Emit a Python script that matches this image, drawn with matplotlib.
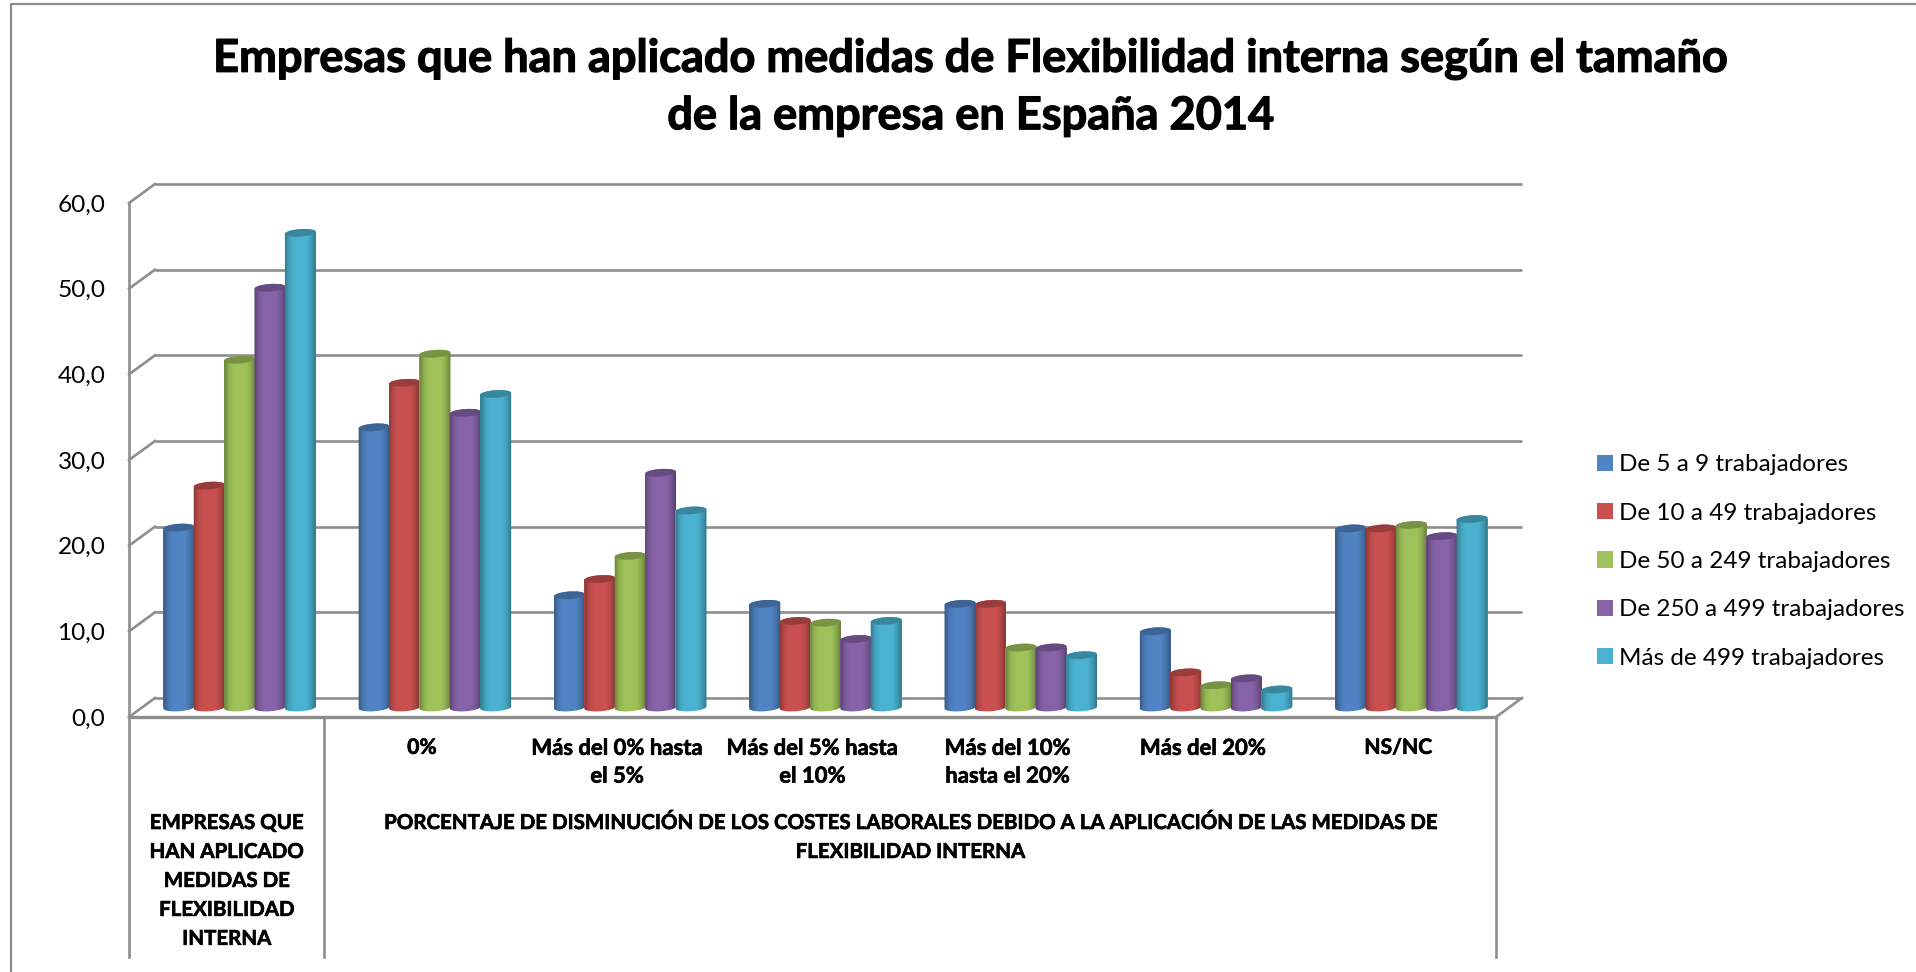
import numpy as np
import matplotlib
matplotlib.use("Agg")
import matplotlib.pyplot as plt
import matplotlib.patheffects as pe
from matplotlib.patches import Ellipse, PathPatch
from matplotlib.path import Path
from matplotlib.transforms import Affine2D, IdentityTransform
from matplotlib.colors import to_rgb

W, H = 1916, 972
FONT = ["Lato", "DejaVu Sans"]
plt.rcParams["font.family"] = FONT

title = "Empresas que han aplicado medidas de Flexibilidad interna según el tamaño\nde la empresa en España 2014"
series_names = ["De 5 a 9 trabajadores", "De 10 a 49 trabajadores", "De 50 a 249 trabajadores",
                "De 250 a 499 trabajadores", "Más de 499 trabajadores"]
categories = ["", "0%", "Más del 0% hasta\nel 5%", "Más del 5% hasta\nel 10%",
              "Más del 10%\nhasta el 20%", "Más del 20%", "NS/NC"]
colors = ["#5083C3", "#C9504F", "#9EC259", "#8663A8", "#4AB2D0"]
s0 = [21.0, 32.7, 13.1, 12.1, 12.1, 8.9, 20.9]
s1 = [25.9, 37.9, 15.0, 10.1, 12.1, 4.1, 20.9]
s2 = [40.6, 41.3, 17.7, 9.9, 7.0, 2.6, 21.3]
s3 = [49.0, 34.4, 27.4, 8.0, 7.0, 3.4, 20.0]
s4 = [55.4, 36.6, 23.0, 10.1, 6.1, 2.1, 22.0]
series = [s0, s1, s2, s3, s4]
yticks = [0, 10, 20, 30, 40, 50, 60]
group_left = "EMPRESAS QUE\nHAN APLICADO\nMEDIDAS DE\nFLEXIBILIDAD\nINTERNA"
group_right = "PORCENTAJE DE DISMINUCIÓN DE LOS COSTES LABORALES DEBIDO A LA APLICACIÓN DE LAS MEDIDAS DE\nFLEXIBILIDAD INTERNA"

fig = plt.figure(figsize=(W / 100, H / 100), dpi=100, facecolor="white")
# front plane of the 3D box, in pixels
x0, x1, ytop, ybot = 129, 1496, 203, 717
ax = fig.add_axes([x0 / W, 1 - ybot / H, (x1 - x0) / W, (ybot - ytop) / H])
ax.set_xlim(-0.5, 6.5)
ax.set_ylim(0, 60)
ax.autoscale(False)
ax.patch.set_visible(False)
for name, sp in ax.spines.items():
    sp.set_visible(False)
GRID = "#8E8E8E"
depth_x, depth_y = 26, 19
mid = ax.transData + Affine2D().translate(depth_x / 2, depth_y / 2)
back = ax.transData + Affine2D().translate(depth_x, depth_y)
dx = depth_x / ((x1 - x0) / 7)
dy = depth_y / ((ybot - ytop) / 60)

# walls
ax.hlines(yticks, -0.5, 6.5, transform=back, color=GRID, lw=1.9, zorder=1, clip_on=False)
for v in yticks:
    ax.plot([-0.5, -0.5 + dx], [v, v + dy], color=GRID, lw=1.9, zorder=1, clip_on=False)
ax.plot([6.5, 6.5 + dx], [0, dy], color=GRID, lw=1.9, zorder=1, clip_on=False)
ax.plot([-0.5, 6.5], [0, 0], color=GRID, lw=2.4, zorder=2, clip_on=False)
ylow = (ybot - 957) / ((ybot - ytop) / 60)
ax.plot([-0.5, -0.5], [60, ylow], color=GRID, lw=1.9, zorder=2, clip_on=False)
for xs in (0.5, 6.5):
    ax.plot([xs, xs], [0, ylow], color=GRID, lw=1.9, zorder=2, clip_on=False)

# cylinders
bw_data = 0.1555
bw_px = 31.0
eh = 7.5
tilt = np.deg2rad(4)
stops_t = [0, 0.06, 0.16, 0.3, 0.68, 0.84, 1]
stops_a = [0.34, 0.24, 0.08, 0.0, 0.0, 0.14, 0.40]
tt = np.linspace(0, 1, 64)
aa = np.interp(tt, stops_t, stops_a)
shade = np.zeros((1, 64, 4))
shade[0, :, 3] = aa
xpos = np.arange(7)


def arc(cx, cy, a0, a1, n=30):
    th = np.linspace(a0, a1, n)
    ex = bw_px / 2 * np.cos(th)
    ey = eh / 2 * np.sin(th)
    return np.c_[cx + ex * np.cos(tilt) - ey * np.sin(tilt), cy + ex * np.sin(tilt) + ey * np.cos(tilt)]


fig.canvas.draw()
containers = []
for s, (vals, col, nm) in enumerate(zip(series, colors, series_names)):
    xx = xpos + (s - 2) * bw_data
    bc = ax.bar(xx, vals, width=bw_data * 1.02, color=col, label=nm, transform=mid, zorder=10 + s, clip_on=False)
    containers.append(bc)
    cap = tuple(c * 0.76 for c in to_rgb(col))
    for xc, v in zip(xx, vals):
        bx, by = mid.transform((xc, 0))
        tx, ty = mid.transform((xc, v))
        low = arc(bx, by, np.pi, 2 * np.pi)
        up = arc(tx, ty, 0, np.pi)
        pts = np.vstack([low, up, low[:1]])
        codes = [Path.MOVETO] + [Path.LINETO] * (len(pts) - 2) + [Path.CLOSEPOLY]
        body = PathPatch(Path(pts, codes), transform=IdentityTransform(), fc=col, ec="none",
                         zorder=10 + s, clip_on=False)
        ax.add_patch(body)
        half = bw_data * 0.53
        im = ax.imshow(shade, extent=(xc - half, xc + half, -2, v + 2), aspect="auto",
                       transform=mid, zorder=10 + s, interpolation="bilinear")
        im.set_clip_path(body)
        ax.add_patch(Ellipse((tx, ty), bw_px, eh, angle=np.rad2deg(tilt), transform=IdentityTransform(),
                             fc=cap, ec="none", zorder=10 + s, clip_on=False))
ax.set_xlim(-0.5, 6.5)
ax.set_ylim(0, 60)

bold_fx = [pe.withStroke(linewidth=0.45, foreground="black")]
# axes text
ax.set_yticks(yticks)
ax.set_yticklabels([f"{v:.1f}".replace(".", ",") for v in yticks], fontsize=17.6, color="black")
ax.set_xticks(xpos)
ax.set_xticklabels(categories, fontsize=15.9, fontweight="bold", linespacing=1.4, color="black")
for lab in ax.get_xticklabels():
    lab.set_path_effects(bold_fx)
    if lab.get_text() in ("0%", "NS/NC"):
        lab.set_fontsize(15.2)
ax.tick_params(axis="both", length=0)
ax.tick_params(axis="y", pad=17)
ax.tick_params(axis="x", pad=15)

ylab = (ybot - 822) / ((ybot - ytop) / 60)
for xt, txt in ((0, group_left), (3.5, group_right)):
    ax.text(xt, ylab, txt, ha="center", va="top", fontsize=14.75, fontweight="bold", linespacing=1.56,
            color="black", clip_on=False, transform=ax.transData + Affine2D().translate(0, 9),
            path_effects=bold_fx)

fig.suptitle(title, x=971 / W, y=1 - 87.5 / H, va="center", ha="center", fontsize=32.5, fontweight="bold",
             linespacing=1.44, color="black", path_effects=[pe.withStroke(linewidth=0.9, foreground="black")])

ax.legend(handles=containers, loc="center left", bbox_to_anchor=(1597 / W, 1 - 561.5 / H),
          bbox_transform=fig.transFigure, frameon=False, fontsize=17.45, handlelength=0.66, handleheight=0.66,
          handletextpad=0.25, labelspacing=1.13, borderpad=0, borderaxespad=0)

# chart outer border
fig.add_artist(plt.Line2D([11 / W, 11 / W, 1], [0, 1 - 4.5 / H, 1 - 4.5 / H], color="#8C8C8C", lw=1.6))

fig.savefig("out.png", dpi=100)
